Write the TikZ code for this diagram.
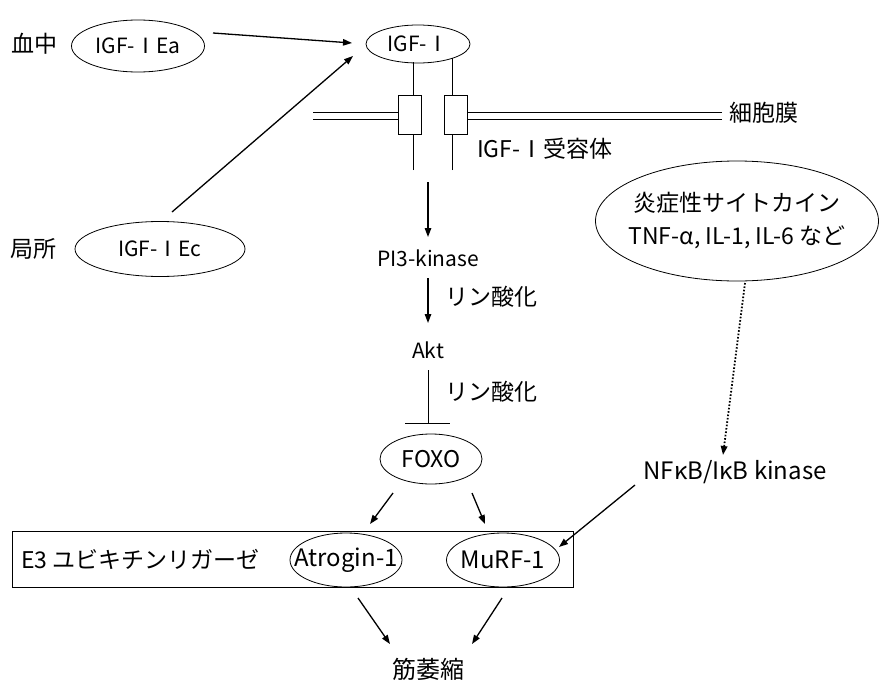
\documentclass[tikz,border=0pt]{standalone}
\usepackage{fontspec}
\setmainfont{Noto Sans CJK JP}
\usetikzlibrary{shapes.geometric,arrows.meta}
\begin{document}
\begin{tikzpicture}[x=1pt,y=-1pt,
  every node/.style={font=\fontsize{23}{28}\selectfont, inner sep=0pt},
  small/.style={font=\fontsize{21}{26}\selectfont},
  oval/.style={draw, ellipse, line width=0.8pt},
  arr/.style={line width=1.3pt, -{Triangle[length=9pt,width=6.5pt]}},
  thin/.style={line width=0.7pt},
  lbl/.style={anchor=west}]
\useasboundingbox (0,0) rectangle (879,683);

% top nodes
\node (blood) at (35,44) {血中};
\node[oval, minimum width=133, minimum height=52, label={[small]center:IGF-ⅠEa}] (ea) at (138,46) {};
\node[oval, minimum width=104, minimum height=38, label={[small]center:IGF-Ⅰ}] (igf) at (418,44) {};
\node (local) at (33,249) {局所};
\node[oval, minimum width=170, minimum height=55, label={[small]center:IGF-ⅠEc}] (ec) at (160,249) {};

\coordinate (ea1) at (213,33);
\coordinate (t1) at (352,43);
\coordinate (ec1) at (172,212);
\coordinate (t2) at (353,56);
\draw[arr] (ea1) -- (t1);
\draw[arr] (ec1) -- (t2);

% receptor
\node[draw, thin, fill=white, minimum width=23, minimum height=39] (rl) at (409.5,115) {};
\node[draw, thin, fill=white, minimum width=23, minimum height=39] (rr) at (455.5,115) {};
\coordinate (l1) at (413,62);
\coordinate (l2) at (452,58);
\coordinate (l3) at (413,170);
\coordinate (l4) at (452,170);
\draw[thin] (l1) -- (l1 |- rl.north);
\draw[thin] (l2) -- (l2 |- rr.north);
\draw[thin] (l3) -- (l3 |- rl.south);
\draw[thin] (l4) -- (l4 |- rr.south);

% membrane
\coordinate (m1) at (313,112);
\coordinate (m2) at (313,119);
\coordinate (m3) at (722,112);
\coordinate (m4) at (722,119);
\draw[thin] (m1) -- (m1 -| rl.west);
\draw[thin] (m2) -- (m2 -| rl.west);
\draw[thin] (m3) -- (m3 -| rr.east);
\draw[thin] (m4) -- (m4 -| rr.east);
\node[lbl] (memb) at (729,113) {細胞膜};
\node[lbl] (rec) at (477,149) {IGF-Ⅰ受容体};

% pathway
\coordinate (a0) at (428,182);
\coordinate (a1) at (428,237);
\node[small] (pi3) at (428,258) {PI3-kinase};
\draw[arr] (a0) -- (a1);
\node[small] (akt) at (428,350) {Akt};
\coordinate (p1) at (428,278);
\coordinate (p2) at (428,323);
\draw[arr] (p1) -- (p2);
\node[lbl] (ph1) at (445,297) {リン酸化};
\node[oval, minimum width=102, minimum height=50, label={center:FOXO}] (foxo) at (431,459) {};
\coordinate (q1) at (428,370);
\coordinate (inh) at (428,423);
\coordinate (bl) at (405,423);
\coordinate (br) at (450,423);
\draw[thin] (q1) -- (inh);
\draw[thin] (bl) -- (br);
\node[lbl] (ph2) at (445,392) {リン酸化};

% cytokine
\node[oval, minimum width=283, minimum height=120,
  label={[align=center, font=\fontsize{23}{33}\selectfont]center:{炎症性サイトカイン\\TNF-\textit{α}, IL-1, IL-6 など}}] (cyt) at (737,221) {};
\node[font=\fontsize{24}{28}\selectfont] (nfkb) at (735,472) {NF\textit{κ}B/I\textit{κ}B kinase};
\coordinate (d0) at (745,283);
\coordinate (d1) at (723,455);
\draw[line width=1.8pt, dash pattern=on 1.6pt off 1.8pt, -{Triangle[length=9pt,width=6.5pt]}] (d0) -- (d1);

% E3 box
\node[draw, thin, minimum width=561, minimum height=56, anchor=north west] (box) at (12,531) {};
\node[lbl] (e3) at (21,559) {E3 ユビキチンリガーゼ};
\node[oval, minimum width=112, minimum height=54, label={[font=\fontsize{24}{28}\selectfont]center:Atrogin-1}] (atro) at (346,560) {};
\node[oval, minimum width=113, minimum height=54, label={[font=\fontsize{24}{28}\selectfont]center:MuRF-1}] (murf) at (503,560) {};

\coordinate (f1) at (393,493);
\coordinate (f2) at (370,524);
\coordinate (f3) at (472,493);
\coordinate (f4) at (485,524);
\draw[arr] (f1) -- (f2);
\draw[arr] (f3) -- (f4);
\coordinate (n1) at (635,485);
\coordinate (n2) at (559,547);
\draw[arr] (n1) -- (n2);

\node[font=\fontsize{24}{28}\selectfont] (atrophy) at (428,669) {筋萎縮};
\coordinate (b1) at (358,598);
\coordinate (b2) at (390,644);
\coordinate (b3) at (502,598);
\coordinate (b4) at (472,644);
\draw[arr] (b1) -- (b2);
\draw[arr] (b3) -- (b4);
\end{tikzpicture}
\end{document}
